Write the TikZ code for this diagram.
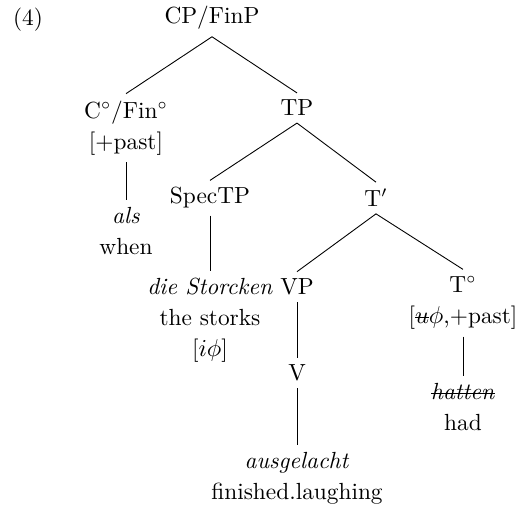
\documentclass[tikz,border=0pt]{standalone}
\usepackage{amsmath}
\usetikzlibrary{positioning}
\newsavebox{\strikebox}
\newcommand{\strikeout}[1]{\sbox{\strikebox}{#1}\rlap{\rule[0.55ex]{\wd\strikebox}{0.45pt}}\usebox{\strikebox}}

\begin{document}
\begin{tikzpicture}[x=0.45pt,y=-0.45pt,on grid]
	\tikzset{cat/.style={align=center, inner sep=3pt, font=\fontsize{10.5}{14}\selectfont},
		branch/.style={line width=0.4pt},
	}
	\useasboundingbox (0,0) rectangle (522,510);
	
	\node [cat] (ex) at (28,20) {(4)};
	\node [cat] (cp) at (212,18) {CP/FinP};
	\node [cat, below left = 49.5pt and 38.7pt of cp] (cfin) {C$^\circ$/Fin$^\circ$\\{}[+past]};
	\node [cat, below = 46.35pt of cfin] (als) {\textit{als}\\when};
	\node [cat, below right = 40.5pt and 38.25pt of cp] (tp) {TP};
	\node [cat, below left = 40.5pt and 39.15pt of tp] (spec) {SpecTP};
	\node [cat, below = 54.9pt of spec] (storks) {\textit{die Storcken}\\the storks\\{}[$i\phi$]};
	\node [cat, below right = 40.5pt and 35.55pt of tp] (tbar) {T$'$};
	\node [cat, below left = 40.05pt and 35.55pt of tbar] (vp) {VP};
	\node [cat, below = 38.7pt of vp] (v) {V};
	\node [cat, below = 47.25pt of v] (laugh) {\textit{ausgelacht}\\finished.laughing};
	\node [cat, below right = 47.25pt and 39.15pt of tbar] (tdeg) {T$^\circ$\\{}[\strikeout{$u$}$\phi$,+past]};
	\node [cat, below = 46.8pt of tdeg] (had) {\strikeout{\textit{hatten}}\\had};
	
	\draw [branch] (cp.south) -- (cfin.north);
	\draw [branch] (cp.south) -- (tp.north);
	\draw [branch] (cfin.south) -- (als.north);
	\draw [branch] (tp.south) -- (spec.north);
	\draw [branch] (tp.south) -- (tbar.north);
	\draw [branch] (spec.south) -- (storks.north);
	\draw [branch] (tbar.south) -- (vp.north);
	\draw [branch] (tbar.south) -- (tdeg.north);
	\draw [branch] (vp.south) -- (v.north);
	\draw [branch] (v.south) -- (laugh.north);
	\draw [branch] (tdeg.south) -- (had.north);
\end{tikzpicture}
\end{document}
